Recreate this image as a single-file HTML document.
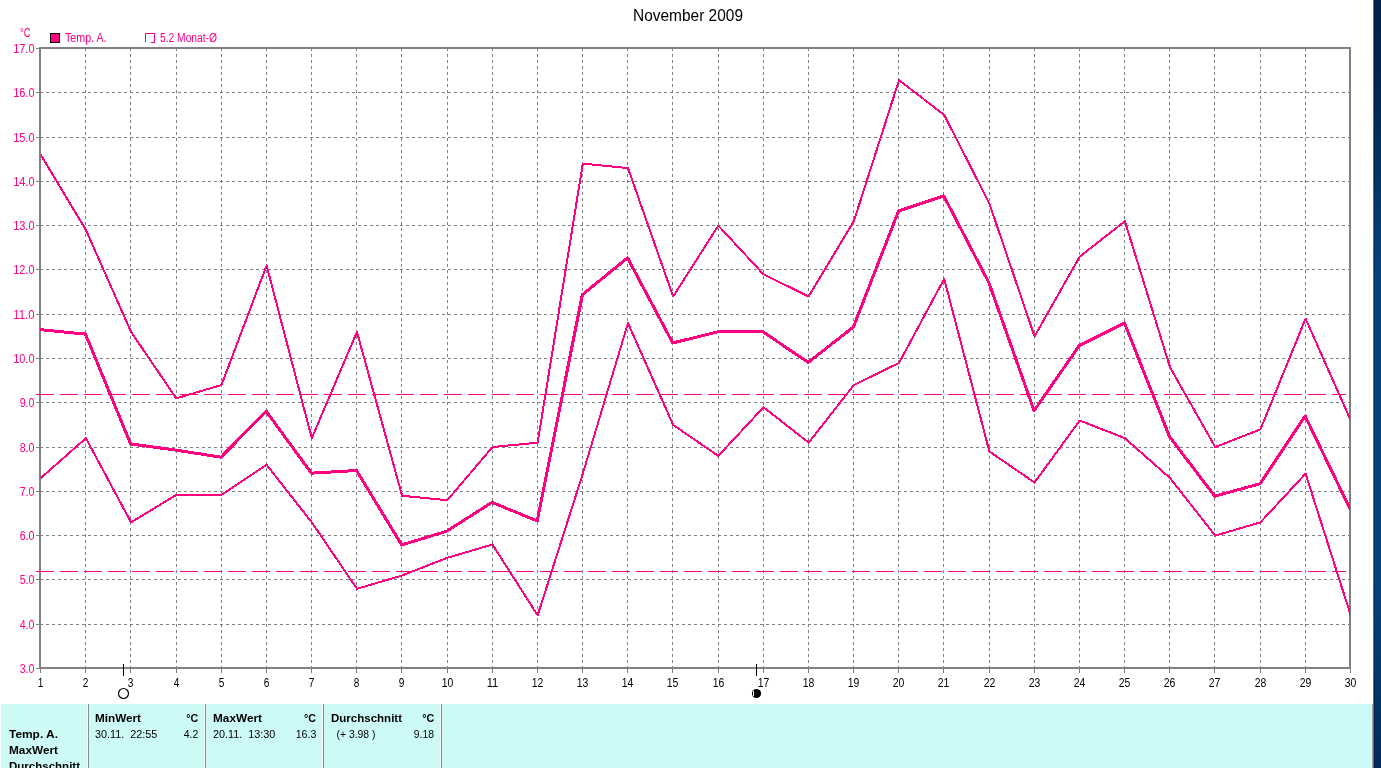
<!DOCTYPE html>
<html lang="de"><head><meta charset="utf-8"><title>November 2009</title>
<style>html,body{margin:0;padding:0;background:#fff;overflow:hidden}svg{display:block}text{white-space:pre}</style>
</head><body>
<svg width="1381" height="768" viewBox="0 0 1381 768">
<defs><linearGradient id="dg" x1="0" y1="0" x2="0" y2="1"><stop offset="0" stop-color="#00214a"/><stop offset="0.1" stop-color="#00264f"/><stop offset="0.36" stop-color="#054380"/><stop offset="0.75" stop-color="#054380"/><stop offset="1" stop-color="#002b5b"/></linearGradient></defs>
<rect x="1373" y="0" width="8" height="768" fill="url(#dg)"/>
<rect x="1373" y="0" width="1" height="768" fill="#1f7fd6"/>
<rect x="1374" y="0" width="1" height="768" fill="#000" fill-opacity="0.22"/>
<rect x="1" y="704" width="1371" height="64" fill="#ccfaf7"/>
<rect x="1372" y="704" width="1" height="64" fill="#a0a0a0"/>
<rect x="87" y="704" width="1" height="64" fill="#ffffff"/>
<rect x="88" y="704" width="1" height="64" fill="#8c8c8c"/>
<rect x="204" y="704" width="1" height="64" fill="#ffffff"/>
<rect x="205" y="704" width="1" height="64" fill="#8c8c8c"/>
<rect x="322" y="704" width="1" height="64" fill="#ffffff"/>
<rect x="323" y="704" width="1" height="64" fill="#8c8c8c"/>
<rect x="440" y="704" width="1" height="64" fill="#ffffff"/>
<rect x="441" y="704" width="1" height="64" fill="#8c8c8c"/>
<g stroke="#808080" stroke-width="1" stroke-dasharray="3 3" shape-rendering="crispEdges" fill="none">
<line x1="85.5" y1="48" x2="85.5" y2="668"/>
<line x1="130.5" y1="48" x2="130.5" y2="668"/>
<line x1="176.5" y1="48" x2="176.5" y2="668"/>
<line x1="221.5" y1="48" x2="221.5" y2="668"/>
<line x1="266.5" y1="48" x2="266.5" y2="668"/>
<line x1="311.5" y1="48" x2="311.5" y2="668"/>
<line x1="356.5" y1="48" x2="356.5" y2="668"/>
<line x1="401.5" y1="48" x2="401.5" y2="668"/>
<line x1="447.5" y1="48" x2="447.5" y2="668"/>
<line x1="492.5" y1="48" x2="492.5" y2="668"/>
<line x1="537.5" y1="48" x2="537.5" y2="668"/>
<line x1="582.5" y1="48" x2="582.5" y2="668"/>
<line x1="627.5" y1="48" x2="627.5" y2="668"/>
<line x1="672.5" y1="48" x2="672.5" y2="668"/>
<line x1="718.5" y1="48" x2="718.5" y2="668"/>
<line x1="763.5" y1="48" x2="763.5" y2="668"/>
<line x1="808.5" y1="48" x2="808.5" y2="668"/>
<line x1="853.5" y1="48" x2="853.5" y2="668"/>
<line x1="898.5" y1="48" x2="898.5" y2="668"/>
<line x1="943.5" y1="48" x2="943.5" y2="668"/>
<line x1="989.5" y1="48" x2="989.5" y2="668"/>
<line x1="1034.5" y1="48" x2="1034.5" y2="668"/>
<line x1="1079.5" y1="48" x2="1079.5" y2="668"/>
<line x1="1124.5" y1="48" x2="1124.5" y2="668"/>
<line x1="1169.5" y1="48" x2="1169.5" y2="668"/>
<line x1="1214.5" y1="48" x2="1214.5" y2="668"/>
<line x1="1260.5" y1="48" x2="1260.5" y2="668"/>
<line x1="1305.5" y1="48" x2="1305.5" y2="668"/>
<line x1="40" y1="92.5" x2="1349" y2="92.5"/>
<line x1="40" y1="137.5" x2="1349" y2="137.5"/>
<line x1="40" y1="181.5" x2="1349" y2="181.5"/>
<line x1="40" y1="225.5" x2="1349" y2="225.5"/>
<line x1="40" y1="269.5" x2="1349" y2="269.5"/>
<line x1="40" y1="314.5" x2="1349" y2="314.5"/>
<line x1="40" y1="358.5" x2="1349" y2="358.5"/>
<line x1="40" y1="402.5" x2="1349" y2="402.5"/>
<line x1="40" y1="447.5" x2="1349" y2="447.5"/>
<line x1="40" y1="491.5" x2="1349" y2="491.5"/>
<line x1="40" y1="535.5" x2="1349" y2="535.5"/>
<line x1="40" y1="579.5" x2="1349" y2="579.5"/>
<line x1="40" y1="624.5" x2="1349" y2="624.5"/>
</g>
<g fill="#808080" shape-rendering="crispEdges">
<rect x="36" y="48" width="3" height="1"/>
<rect x="36" y="92" width="3" height="1"/>
<rect x="36" y="137" width="3" height="1"/>
<rect x="36" y="181" width="3" height="1"/>
<rect x="36" y="225" width="3" height="1"/>
<rect x="36" y="269" width="3" height="1"/>
<rect x="36" y="314" width="3" height="1"/>
<rect x="36" y="358" width="3" height="1"/>
<rect x="36" y="402" width="3" height="1"/>
<rect x="36" y="447" width="3" height="1"/>
<rect x="36" y="491" width="3" height="1"/>
<rect x="36" y="535" width="3" height="1"/>
<rect x="36" y="579" width="3" height="1"/>
<rect x="36" y="624" width="3" height="1"/>
<rect x="36" y="668" width="3" height="1"/>
<rect x="40" y="669" width="1" height="4"/>
<rect x="85" y="669" width="1" height="4"/>
<rect x="130" y="669" width="1" height="4"/>
<rect x="176" y="669" width="1" height="4"/>
<rect x="221" y="669" width="1" height="4"/>
<rect x="266" y="669" width="1" height="4"/>
<rect x="311" y="669" width="1" height="4"/>
<rect x="356" y="669" width="1" height="4"/>
<rect x="401" y="669" width="1" height="4"/>
<rect x="447" y="669" width="1" height="4"/>
<rect x="492" y="669" width="1" height="4"/>
<rect x="537" y="669" width="1" height="4"/>
<rect x="582" y="669" width="1" height="4"/>
<rect x="627" y="669" width="1" height="4"/>
<rect x="672" y="669" width="1" height="4"/>
<rect x="718" y="669" width="1" height="4"/>
<rect x="763" y="669" width="1" height="4"/>
<rect x="808" y="669" width="1" height="4"/>
<rect x="853" y="669" width="1" height="4"/>
<rect x="898" y="669" width="1" height="4"/>
<rect x="943" y="669" width="1" height="4"/>
<rect x="989" y="669" width="1" height="4"/>
<rect x="1034" y="669" width="1" height="4"/>
<rect x="1079" y="669" width="1" height="4"/>
<rect x="1124" y="669" width="1" height="4"/>
<rect x="1169" y="669" width="1" height="4"/>
<rect x="1214" y="669" width="1" height="4"/>
<rect x="1260" y="669" width="1" height="4"/>
<rect x="1305" y="669" width="1" height="4"/>
<rect x="1350" y="669" width="1" height="4"/>
</g>
<rect x="40" y="48" width="1310" height="620" fill="none" stroke="#808080" stroke-width="2" shape-rendering="crispEdges"/>
<line x1="36" y1="394.5" x2="1346" y2="394.5" stroke="#ff0080" stroke-width="1" stroke-dasharray="18 6" shape-rendering="crispEdges"/>
<line x1="36" y1="571.5" x2="1346" y2="571.5" stroke="#ff0080" stroke-width="1" stroke-dasharray="18 6" shape-rendering="crispEdges"/>
<clipPath id="pc"><rect x="40" y="40" width="1310" height="640"/></clipPath>
<g fill="none" stroke="#ff0080" stroke-linejoin="round" stroke-linecap="butt" clip-path="url(#pc)" shape-rendering="crispEdges">
<polyline stroke-width="2" points="40.75,154.79 85.92,230.07 131.09,331.93 176.27,398.36 221.44,385.07 266.61,265.50 311.78,438.21 356.96,331.93 402.13,495.79 447.30,500.21 492.47,447.07 537.65,442.64 582.82,163.64 627.99,168.07 673.16,296.50 718.34,225.64 763.51,274.36 808.68,296.50 853.85,221.21 899.03,80.16 944.20,114.93 989.37,203.50 1034.54,336.36 1079.72,256.64 1124.89,221.21 1170.06,367.36 1215.23,447.07 1260.41,429.36 1305.58,318.64 1350.75,420.50"/>
<polyline stroke-width="2" points="40.75,478.07 85.92,438.21 131.09,522.36 176.27,494.90 221.44,494.90 266.61,464.79 311.78,522.36 356.96,588.79 402.13,575.50 447.30,557.79 492.47,544.50 537.65,615.36 582.82,473.64 627.99,323.07 673.16,424.93 718.34,455.93 763.51,407.21 808.68,442.64 853.85,385.07 899.03,362.93 944.20,278.79 989.37,451.50 1034.54,482.50 1079.72,420.50 1124.89,438.21 1170.06,478.07 1215.23,535.64 1260.41,522.36 1305.58,473.64 1350.75,615.36"/>
<polyline stroke-width="3" points="40.30,329.66 85.47,334.09 130.64,443.91 175.82,450.11 220.99,457.20 266.16,411.14 311.33,473.14 356.51,470.49 401.68,544.89 446.85,531.16 492.02,502.37 537.20,520.97 582.37,294.67 627.54,257.91 672.71,342.94 717.89,331.87 763.06,331.87 808.23,362.43 853.40,327.00 898.58,210.97 943.75,195.91 988.92,282.71 1034.09,410.70 1079.27,345.60 1124.44,323.01 1169.61,436.83 1214.78,496.17 1259.96,483.77 1305.13,416.01 1350.30,509.46"/>
</g>
<g shape-rendering="crispEdges"><rect x="123" y="664" width="1" height="12" fill="#000"/><rect x="756" y="664" width="1" height="12" fill="#000"/></g>
<circle cx="123.5" cy="693.5" r="5" fill="#fff" stroke="#000" stroke-width="1.2"/>
<circle cx="756.5" cy="693.5" r="4.6" fill="#000"/>
<rect x="753" y="691" width="1" height="5" fill="#fff"/>
<rect x="50.5" y="33.5" width="9" height="9" fill="#ff0080" stroke="#000" stroke-width="1" shape-rendering="crispEdges"/>
<path d="M145.5 42 V33.5 H154.5 V42.5 H150.5" fill="none" stroke="#ff0080" stroke-width="1" shape-rendering="crispEdges"/>
<g font-family="Liberation Sans, Arial, sans-serif">
<text x="633" y="20.6" font-size="16" fill="#000" textLength="110" lengthAdjust="spacingAndGlyphs" xml:space="preserve">November 2009</text>
<text x="20" y="37" font-size="12.5" fill="#ff0080" textLength="10.5" lengthAdjust="spacingAndGlyphs" xml:space="preserve">°C</text>
<text x="65" y="42.3" font-size="12.5" fill="#ff0080" textLength="41.5" lengthAdjust="spacingAndGlyphs" xml:space="preserve">Temp. A.</text>
<text x="160" y="42.3" font-size="12.5" fill="#ff0080" textLength="57" lengthAdjust="spacingAndGlyphs" xml:space="preserve">5.2 Monat-Ø</text>
<text x="34.5" y="53" font-size="12.5" fill="#ff0080" textLength="21.3" lengthAdjust="spacingAndGlyphs" text-anchor="end" xml:space="preserve">17.0</text>
<text x="34.5" y="97" font-size="12.5" fill="#ff0080" textLength="21.3" lengthAdjust="spacingAndGlyphs" text-anchor="end" xml:space="preserve">16.0</text>
<text x="34.5" y="142" font-size="12.5" fill="#ff0080" textLength="21.3" lengthAdjust="spacingAndGlyphs" text-anchor="end" xml:space="preserve">15.0</text>
<text x="34.5" y="186" font-size="12.5" fill="#ff0080" textLength="21.3" lengthAdjust="spacingAndGlyphs" text-anchor="end" xml:space="preserve">14.0</text>
<text x="34.5" y="230" font-size="12.5" fill="#ff0080" textLength="21.3" lengthAdjust="spacingAndGlyphs" text-anchor="end" xml:space="preserve">13.0</text>
<text x="34.5" y="274" font-size="12.5" fill="#ff0080" textLength="21.3" lengthAdjust="spacingAndGlyphs" text-anchor="end" xml:space="preserve">12.0</text>
<text x="34.5" y="319" font-size="12.5" fill="#ff0080" textLength="21.3" lengthAdjust="spacingAndGlyphs" text-anchor="end" xml:space="preserve">11.0</text>
<text x="34.5" y="363" font-size="12.5" fill="#ff0080" textLength="21.3" lengthAdjust="spacingAndGlyphs" text-anchor="end" xml:space="preserve">10.0</text>
<text x="34.5" y="407" font-size="12.5" fill="#ff0080" textLength="14.8" lengthAdjust="spacingAndGlyphs" text-anchor="end" xml:space="preserve">9.0</text>
<text x="34.5" y="452" font-size="12.5" fill="#ff0080" textLength="14.8" lengthAdjust="spacingAndGlyphs" text-anchor="end" xml:space="preserve">8.0</text>
<text x="34.5" y="496" font-size="12.5" fill="#ff0080" textLength="14.8" lengthAdjust="spacingAndGlyphs" text-anchor="end" xml:space="preserve">7.0</text>
<text x="34.5" y="540" font-size="12.5" fill="#ff0080" textLength="14.8" lengthAdjust="spacingAndGlyphs" text-anchor="end" xml:space="preserve">6.0</text>
<text x="34.5" y="584" font-size="12.5" fill="#ff0080" textLength="14.8" lengthAdjust="spacingAndGlyphs" text-anchor="end" xml:space="preserve">5.0</text>
<text x="34.5" y="629" font-size="12.5" fill="#ff0080" textLength="14.8" lengthAdjust="spacingAndGlyphs" text-anchor="end" xml:space="preserve">4.0</text>
<text x="34.5" y="673" font-size="12.5" fill="#ff0080" textLength="14.8" lengthAdjust="spacingAndGlyphs" text-anchor="end" xml:space="preserve">3.0</text>
<text x="40.5" y="687" font-size="12.5" fill="#000" textLength="5.6" lengthAdjust="spacingAndGlyphs" text-anchor="middle" xml:space="preserve">1</text>
<text x="85.5" y="687" font-size="12.5" fill="#000" textLength="5.6" lengthAdjust="spacingAndGlyphs" text-anchor="middle" xml:space="preserve">2</text>
<text x="130.5" y="687" font-size="12.5" fill="#000" textLength="5.6" lengthAdjust="spacingAndGlyphs" text-anchor="middle" xml:space="preserve">3</text>
<text x="176.5" y="687" font-size="12.5" fill="#000" textLength="5.6" lengthAdjust="spacingAndGlyphs" text-anchor="middle" xml:space="preserve">4</text>
<text x="221.5" y="687" font-size="12.5" fill="#000" textLength="5.6" lengthAdjust="spacingAndGlyphs" text-anchor="middle" xml:space="preserve">5</text>
<text x="266.5" y="687" font-size="12.5" fill="#000" textLength="5.6" lengthAdjust="spacingAndGlyphs" text-anchor="middle" xml:space="preserve">6</text>
<text x="311.5" y="687" font-size="12.5" fill="#000" textLength="5.6" lengthAdjust="spacingAndGlyphs" text-anchor="middle" xml:space="preserve">7</text>
<text x="356.5" y="687" font-size="12.5" fill="#000" textLength="5.6" lengthAdjust="spacingAndGlyphs" text-anchor="middle" xml:space="preserve">8</text>
<text x="401.5" y="687" font-size="12.5" fill="#000" textLength="5.6" lengthAdjust="spacingAndGlyphs" text-anchor="middle" xml:space="preserve">9</text>
<text x="447.5" y="687" font-size="12.5" fill="#000" textLength="11.6" lengthAdjust="spacingAndGlyphs" text-anchor="middle" xml:space="preserve">10</text>
<text x="492.5" y="687" font-size="12.5" fill="#000" textLength="11.6" lengthAdjust="spacingAndGlyphs" text-anchor="middle" xml:space="preserve">11</text>
<text x="537.5" y="687" font-size="12.5" fill="#000" textLength="11.6" lengthAdjust="spacingAndGlyphs" text-anchor="middle" xml:space="preserve">12</text>
<text x="582.5" y="687" font-size="12.5" fill="#000" textLength="11.6" lengthAdjust="spacingAndGlyphs" text-anchor="middle" xml:space="preserve">13</text>
<text x="627.5" y="687" font-size="12.5" fill="#000" textLength="11.6" lengthAdjust="spacingAndGlyphs" text-anchor="middle" xml:space="preserve">14</text>
<text x="672.5" y="687" font-size="12.5" fill="#000" textLength="11.6" lengthAdjust="spacingAndGlyphs" text-anchor="middle" xml:space="preserve">15</text>
<text x="718.5" y="687" font-size="12.5" fill="#000" textLength="11.6" lengthAdjust="spacingAndGlyphs" text-anchor="middle" xml:space="preserve">16</text>
<text x="763.5" y="687" font-size="12.5" fill="#000" textLength="11.6" lengthAdjust="spacingAndGlyphs" text-anchor="middle" xml:space="preserve">17</text>
<text x="808.5" y="687" font-size="12.5" fill="#000" textLength="11.6" lengthAdjust="spacingAndGlyphs" text-anchor="middle" xml:space="preserve">18</text>
<text x="853.5" y="687" font-size="12.5" fill="#000" textLength="11.6" lengthAdjust="spacingAndGlyphs" text-anchor="middle" xml:space="preserve">19</text>
<text x="898.5" y="687" font-size="12.5" fill="#000" textLength="11.6" lengthAdjust="spacingAndGlyphs" text-anchor="middle" xml:space="preserve">20</text>
<text x="943.5" y="687" font-size="12.5" fill="#000" textLength="11.6" lengthAdjust="spacingAndGlyphs" text-anchor="middle" xml:space="preserve">21</text>
<text x="989.5" y="687" font-size="12.5" fill="#000" textLength="11.6" lengthAdjust="spacingAndGlyphs" text-anchor="middle" xml:space="preserve">22</text>
<text x="1034.5" y="687" font-size="12.5" fill="#000" textLength="11.6" lengthAdjust="spacingAndGlyphs" text-anchor="middle" xml:space="preserve">23</text>
<text x="1079.5" y="687" font-size="12.5" fill="#000" textLength="11.6" lengthAdjust="spacingAndGlyphs" text-anchor="middle" xml:space="preserve">24</text>
<text x="1124.5" y="687" font-size="12.5" fill="#000" textLength="11.6" lengthAdjust="spacingAndGlyphs" text-anchor="middle" xml:space="preserve">25</text>
<text x="1169.5" y="687" font-size="12.5" fill="#000" textLength="11.6" lengthAdjust="spacingAndGlyphs" text-anchor="middle" xml:space="preserve">26</text>
<text x="1214.5" y="687" font-size="12.5" fill="#000" textLength="11.6" lengthAdjust="spacingAndGlyphs" text-anchor="middle" xml:space="preserve">27</text>
<text x="1260.5" y="687" font-size="12.5" fill="#000" textLength="11.6" lengthAdjust="spacingAndGlyphs" text-anchor="middle" xml:space="preserve">28</text>
<text x="1305.5" y="687" font-size="12.5" fill="#000" textLength="11.6" lengthAdjust="spacingAndGlyphs" text-anchor="middle" xml:space="preserve">29</text>
<text x="1350.5" y="687" font-size="12.5" fill="#000" textLength="11.6" lengthAdjust="spacingAndGlyphs" text-anchor="middle" xml:space="preserve">30</text>
<text x="9" y="738" font-size="11" fill="#000" textLength="49" lengthAdjust="spacingAndGlyphs" font-weight="bold" xml:space="preserve">Temp. A.</text>
<text x="9" y="754" font-size="11" fill="#000" textLength="49" lengthAdjust="spacingAndGlyphs" font-weight="bold" xml:space="preserve">MaxWert</text>
<text x="9" y="770" font-size="11" fill="#000" textLength="71" lengthAdjust="spacingAndGlyphs" font-weight="bold" xml:space="preserve">Durchschnitt</text>
<text x="95" y="722" font-size="11" fill="#000" textLength="46" lengthAdjust="spacingAndGlyphs" font-weight="bold" xml:space="preserve">MinWert</text>
<text x="186.3" y="722" font-size="11" fill="#000" textLength="12" lengthAdjust="spacingAndGlyphs" font-weight="bold" xml:space="preserve">°C</text>
<text x="95" y="738" font-size="11" fill="#000" textLength="62.3" lengthAdjust="spacingAndGlyphs" xml:space="preserve">30.11.  22:55</text>
<text x="198.3" y="738" font-size="11" fill="#000" textLength="14.5" lengthAdjust="spacingAndGlyphs" text-anchor="end" xml:space="preserve">4.2</text>
<text x="213" y="722" font-size="11" fill="#000" textLength="49" lengthAdjust="spacingAndGlyphs" font-weight="bold" xml:space="preserve">MaxWert</text>
<text x="304" y="722" font-size="11" fill="#000" textLength="12" lengthAdjust="spacingAndGlyphs" font-weight="bold" xml:space="preserve">°C</text>
<text x="213" y="738" font-size="11" fill="#000" textLength="62.3" lengthAdjust="spacingAndGlyphs" xml:space="preserve">20.11.  13:30</text>
<text x="316.4" y="738" font-size="11" fill="#000" textLength="20.7" lengthAdjust="spacingAndGlyphs" text-anchor="end" xml:space="preserve">16.3</text>
<text x="331" y="722" font-size="11" fill="#000" textLength="71" lengthAdjust="spacingAndGlyphs" font-weight="bold" xml:space="preserve">Durchschnitt</text>
<text x="422.2" y="722" font-size="11" fill="#000" textLength="12" lengthAdjust="spacingAndGlyphs" font-weight="bold" xml:space="preserve">°C</text>
<text x="336.5" y="738" font-size="11" fill="#000" textLength="39" lengthAdjust="spacingAndGlyphs" xml:space="preserve">(+ 3.98 )</text>
<text x="434" y="738" font-size="11" fill="#000" textLength="20.3" lengthAdjust="spacingAndGlyphs" text-anchor="end" xml:space="preserve">9.18</text>
</g>
</svg>
</body></html>
